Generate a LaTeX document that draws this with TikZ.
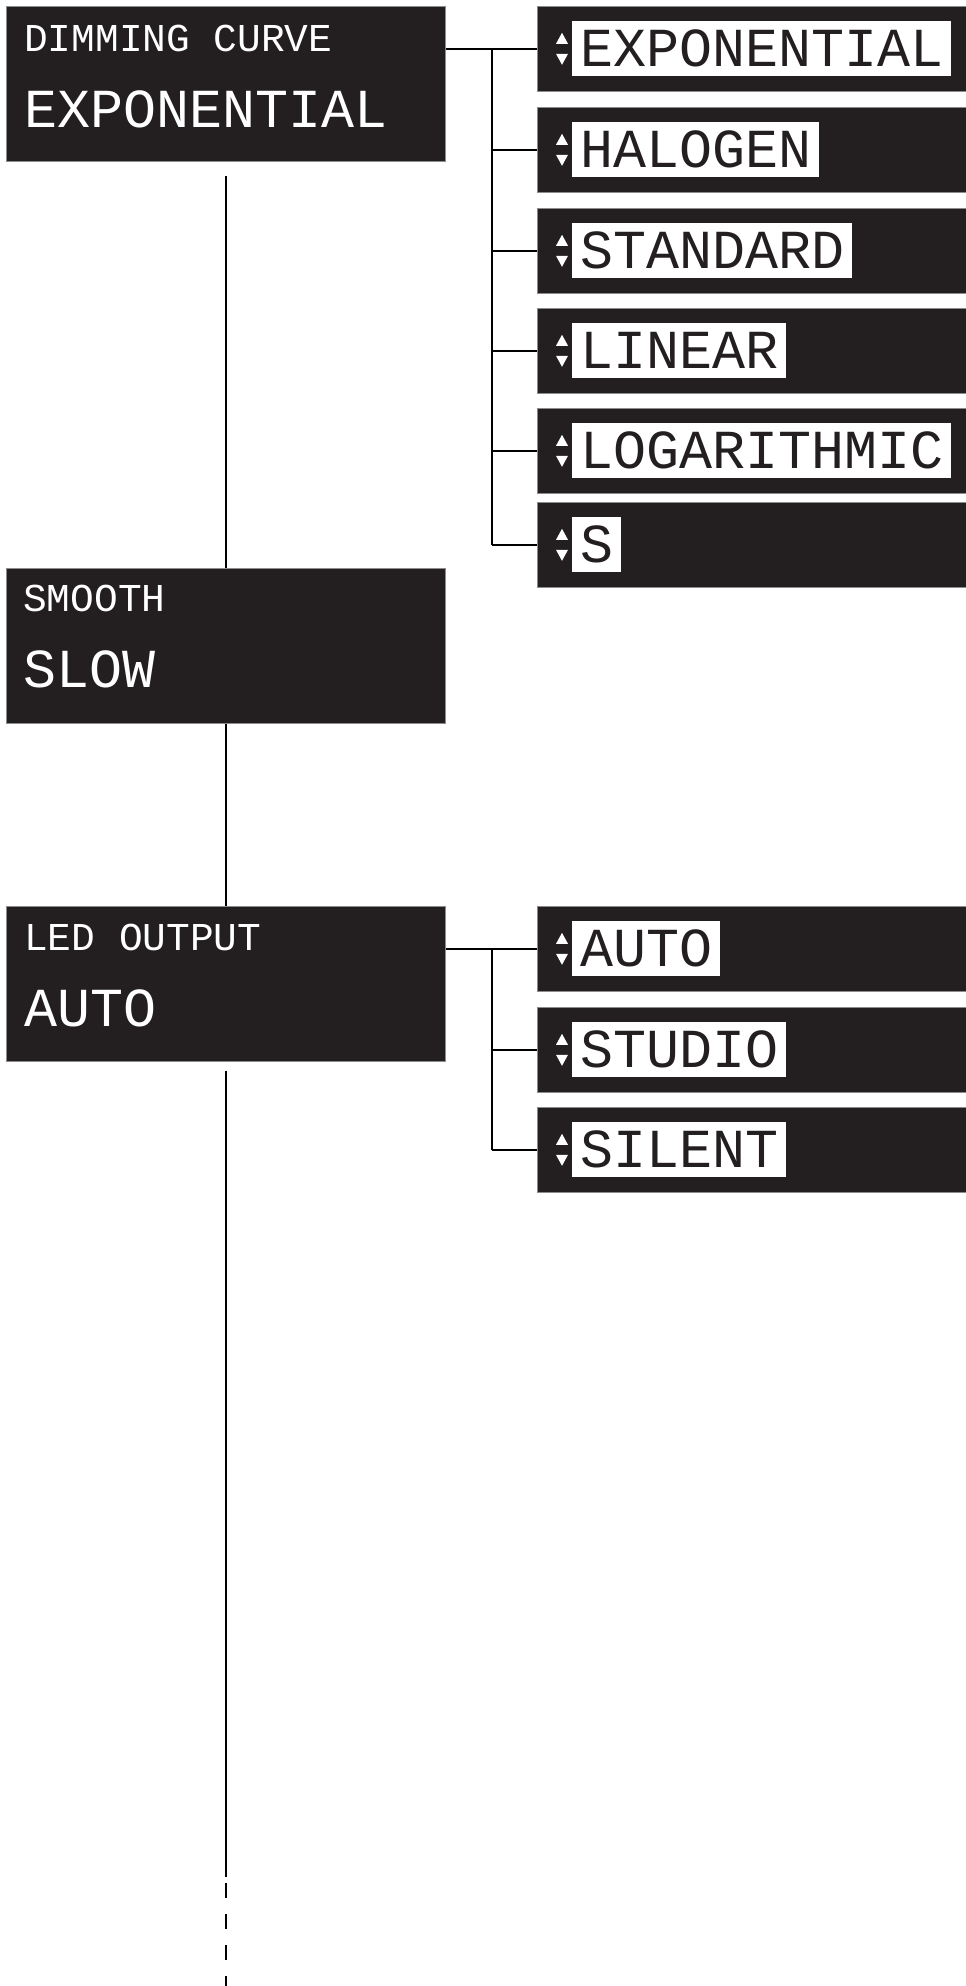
\documentclass[tikz,border=0pt]{standalone}
\usepackage{fontspec}
\setmonofont{Liberation Mono}
\definecolor{panel}{HTML}{231F20}

\begin{document}
\begin{tikzpicture}[x=1pt, y=1pt,
	menubox/.style={fill=panel, draw=black!45, line width=0.6pt, minimum width=439, minimum height=155, inner sep=0pt, anchor=north west},
	optbox/.style={fill=panel, draw=black!45, line width=0.6pt, minimum width=432, minimum height=85, inner sep=0pt, anchor=north west},
	menulabel/.style={anchor=base west, inner sep=0pt, text=white, font=\ttfamily\fontsize{39.5}{39.5}\selectfont},
	menuvalue/.style={anchor=base west, inner sep=0pt, text=white, font=\ttfamily\fontsize{55}{55}\selectfont},
	optvalue/.style={anchor=west, fill=white, text=panel, minimum height=55, inner xsep=8pt, inner ysep=0pt, font=\ttfamily\fontsize{55}{55}\selectfont},
	link/.style={line width=2.6pt}]
	\useasboundingbox (0,0) rectangle (966,-1986);
	% the three menu screens
	\node[menubox] (curve) at (6,-6) {};
	\node[menulabel] at ([shift={(18,-45)}]curve.north west) {DIMMING CURVE};
	\node[menuvalue] at ([shift={(18,-121)}]curve.north west) {EXPONENTIAL};
	\node[menubox] (smooth) at (6,-568) {};
	\node[menulabel] at ([shift={(17,-43)}]smooth.north west) {SMOOTH};
	\node[menuvalue] at ([shift={(17,-119)}]smooth.north west) {SLOW};
	\node[menubox] (output) at (6,-906) {};
	\node[menulabel] at ([shift={(18,-44)}]output.north west) {LED OUTPUT};
	\node[menuvalue] at ([shift={(18,-120)}]output.north west) {AUTO};
	% the choices, each with up and down arrows
	\foreach \name/\top/\val in {cexp/6/EXPONENTIAL, chal/107/HALOGEN, cstd/208/STANDARD, clin/308/LINEAR, clog/408/LOGARITHMIC, cs/502/S, oauto/906/AUTO, ostudio/1007/STUDIO, osilent/1107/SILENT} {
		\node[optbox] (\name) at (537,-\top) {};
		\node[optvalue] at ([xshift=35]\name.west) {\val};
		\fill[white] ([shift={(19,5)}]\name.west) -- ++(12,0) -- ++(-6,11) -- cycle;
		\fill[white] ([shift={(19,-5)}]\name.west) -- ++(12,0) -- ++(-6,-11) -- cycle;
	}
	% the branches to the choices
	\coordinate (bus) at (492,0);
	\draw[link] (curve.east |- cexp.west) -- (cexp.west);
	\draw[link] (bus |- cexp.west) -- (bus |- cs.west);
	\foreach \name in {chal, cstd, clin, clog, cs}
		\draw[link] (bus |- \name.west) -- (\name.west);
	\draw[link] (output.east |- oauto.west) -- (oauto.west);
	\draw[link] (bus |- oauto.west) -- (bus |- osilent.west);
	\foreach \name in {ostudio, osilent}
		\draw[link] (bus |- \name.west) -- (\name.west);
	% the trunk down the menu
	\coordinate (solidend) at (output.south |- 0,-1877);
	\coordinate (dashtop) at (output.south |- 0,-1883);
	\coordinate (dashend) at (output.south |- 0,-1990);
	\draw[link, shorten <=14pt] (curve.south) -- (smooth.north);
	\draw[link] (smooth.south) -- (output.north);
	\draw[link, shorten <=9pt] (output.south) -- (solidend);
	\draw[link, dash pattern=on 15pt off 16pt] (dashtop) -- (dashend);
\end{tikzpicture}
\end{document}
